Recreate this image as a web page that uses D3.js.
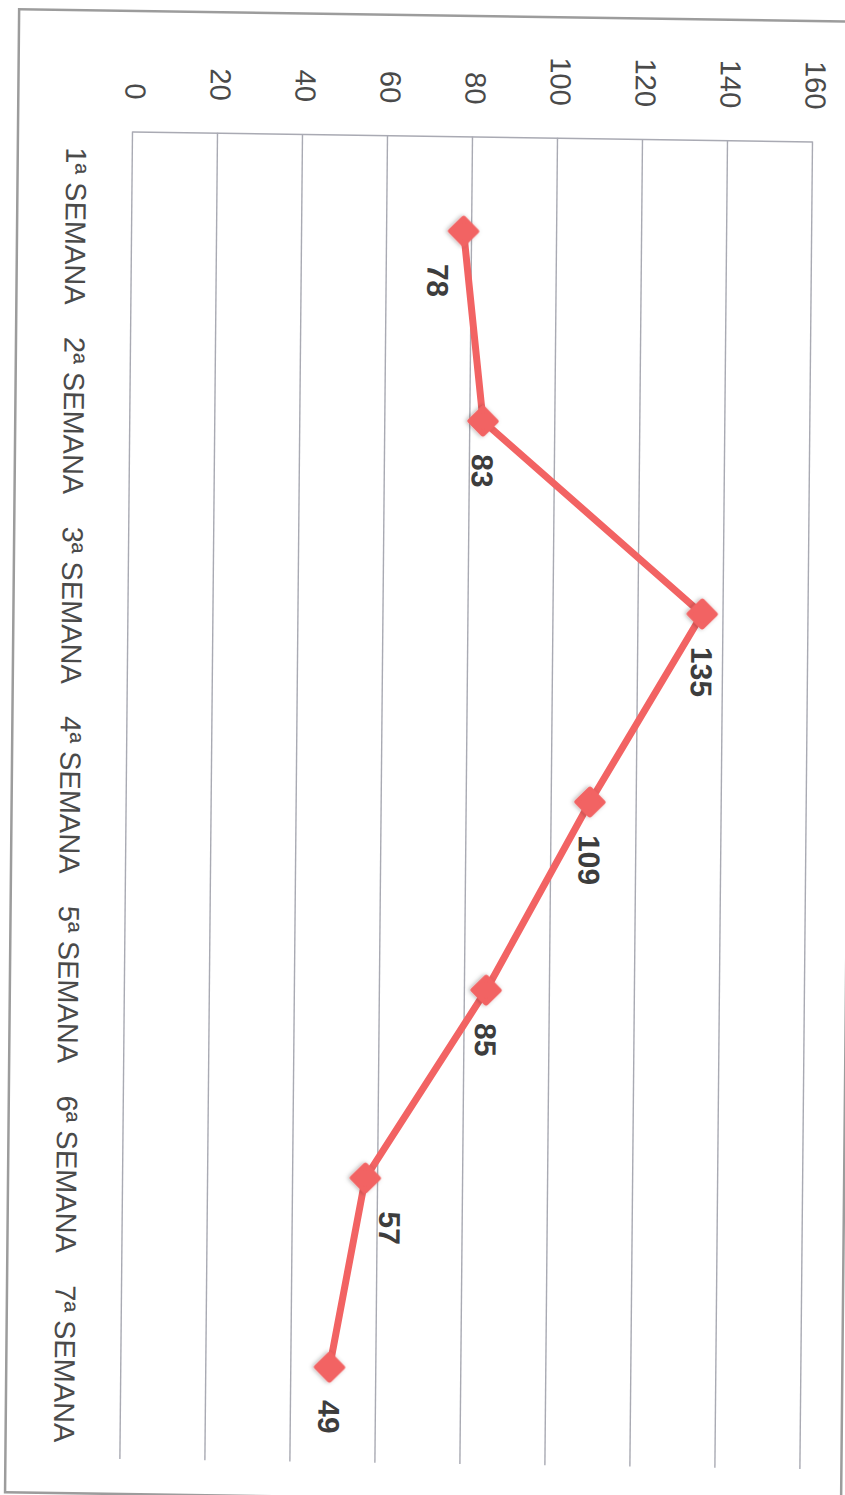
<!DOCTYPE html>
<html>
<head>
<meta charset="utf-8">
<script src="https://cdn.jsdelivr.net/npm/d3@7"></script>
<style>
  html, body { margin: 0; padding: 0; background: #ffffff; }
  svg { display: block; }
</style>
</head>
<body>
<script>
// ---- data ----
const categories = ["1ª SEMANA", "2ª SEMANA", "3ª SEMANA", "4ª SEMANA", "5ª SEMANA", "6ª SEMANA", "7ª SEMANA"];
const values = [78, 83, 135, 109, 85, 57, 49];
const valueTicks = [0, 20, 40, 60, 80, 100, 120, 140, 160];
const valueDomain = [0, 160];

// ---- layout ----
const W = 845, H = 1495;
const skewA = -0.0095, skewB = 0.0147;   // scan skew
const pivotX = 133, pivotY = 131;
const uStart = 131.5, uEnd = 1459;       // category direction (screen down)
const vBottom = 712, vTop = 32;          // value direction (screen right after rotation)
const FONT = "'Liberation Sans', Arial, sans-serif";
const lineColor = "#f26363";
const gridColor = "#a9aab3";
const textColor = "#4a4a4a";

const svg = d3.select("body").append("svg")
  .attr("width", W).attr("height", H);

svg.append("rect").attr("width", W).attr("height", H).attr("fill", "#ffffff");

const defs = svg.append("defs");
const flt = defs.append("filter").attr("id", "shadow")
  .attr("x", "-50%").attr("y", "-50%").attr("width", "200%").attr("height", "200%");
flt.append("feDropShadow").attr("dx", 0).attr("dy", 1.5).attr("stdDeviation", 2)
  .attr("flood-color", "#000").attr("flood-opacity", 0.3);

const skew = svg.append("g")
  .attr("transform", `matrix(1,${skewB},${skewA},1,${-skewA * pivotY},${-skewB * pivotX})`);

// outer chart border
skew.append("rect")
  .attr("x", 18).attr("y", 11).attr("width", 836).attr("height", 1483)
  .attr("fill", "none").attr("stroke", "#9c9c9c").attr("stroke-width", 2.5);

// chart drawn in its own (unrotated) frame and then turned 90° clockwise
const g = skew.append("g").attr("transform", `translate(${W},0) rotate(90)`);

const x = d3.scalePoint().domain(categories).range([uStart, uEnd]).padding(0.5);
const y = d3.scaleLinear().domain(valueDomain).range([vBottom, vTop]);

// value axis + gridlines
const yAxis = g.append("g")
  .attr("transform", `translate(${uStart},0)`)
  .call(d3.axisLeft(y)
    .tickValues(valueTicks)
    .tickSize(-(uEnd - uStart))
    .tickSizeOuter(0)
    .tickPadding(32)
    .tickFormat(d3.format("d")));
yAxis.select(".domain").attr("stroke", gridColor).attr("stroke-width", 1.4);
yAxis.selectAll(".tick line").attr("stroke", gridColor).attr("stroke-width", 1.4);
yAxis.selectAll(".tick text")
  .attr("fill", textColor)
  .attr("dy", "0.255em")
  .style("font-family", FONT).style("font-size", "29px");

// category axis
const xAxis = g.append("g")
  .attr("transform", `translate(0,${vBottom})`)
  .call(d3.axisBottom(x).tickSize(0).tickPadding(46));
xAxis.select(".domain").remove();
xAxis.selectAll(".tick text")
  .attr("fill", textColor)
  .style("font-family", FONT).style("font-size", "29px");

// line
const line = d3.line()
  .x((d, i) => x(categories[i]))
  .y(d => y(d));
g.append("path")
  .datum(values)
  .attr("d", line)
  .attr("fill", "none")
  .attr("stroke", lineColor)
  .attr("stroke-width", 7)
  .attr("stroke-linejoin", "round");

// markers
const r = 13;
g.selectAll(".marker")
  .data(values)
  .join("path")
  .attr("class", "marker")
  .attr("transform", (d, i) => `translate(${x(categories[i])},${y(d)})`)
  .attr("d", `M0,${-r}L${r},0L0,${r}L${-r},0Z`)
  .attr("fill", lineColor)
  .attr("stroke", lineColor)
  .attr("stroke-width", 5)
  .attr("stroke-linejoin", "round")
  .attr("filter", "url(#shadow)");

// data labels (placed to the right of each point, nudged off the line when needed)
const labelGap = 33;
const step = x.step();
const labels = g.selectAll(".dlabel")
  .data(values)
  .join("text")
  .attr("class", "dlabel")
  .attr("x", (d, i) => x(categories[i]) + labelGap)
  .attr("y", d => y(d))
  .attr("dy", "0.36em")
  .attr("text-anchor", "start")
  .attr("fill", "#3d3d3d")
  .style("font-family", FONT).style("font-size", "30px").style("font-weight", "bold")
  .text(d => d);

labels.each(function (d, i) {
  if (i >= values.length - 1) return;
  const w = this.getComputedTextLength();
  const v0 = y(d), v1 = y(values[i + 1]);
  const vLine = v0 + (v1 - v0) * (labelGap + w / 2) / step;
  if (Math.abs(vLine - v0) < 20) {
    const shift = vLine > v0 ? -25 : 25;
    d3.select(this).attr("y", v0 + shift);
  }
});
</script>
</body>
</html>
